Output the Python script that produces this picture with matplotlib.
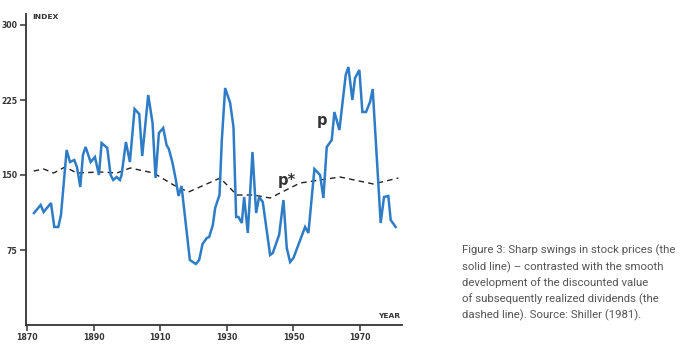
import matplotlib.pyplot as plt

# stock price index p (solid) and ex-post rational price p* (dashed)
p_years = [1872.1, 1874.1, 1875.0, 1877.2, 1878.2, 1879.4, 1880.2, 1881.9, 1882.9, 1884.2,
           1885.0, 1886.0, 1886.8, 1887.6, 1889.1, 1890.4, 1891.6, 1892.4, 1894.1, 1895.1,
           1895.9, 1896.9, 1897.9, 1898.4, 1899.7, 1900.9, 1902.3, 1903.7, 1904.6, 1906.4,
           1907.7, 1908.6, 1909.6, 1910.9, 1911.9, 1912.6, 1913.7, 1914.7, 1915.5, 1916.4,
           1918.9, 1920.7, 1921.7, 1922.7, 1924.0, 1924.7, 1925.8, 1926.5, 1927.8, 1928.5,
           1929.5, 1931.0, 1932.0, 1932.8, 1933.5, 1934.5, 1935.2, 1936.3, 1937.7, 1938.8,
           1939.7, 1940.8, 1943.0, 1943.8, 1945.7, 1947.0, 1948.0, 1949.0, 1950.0, 1953.5,
           1954.5, 1956.3, 1958.0, 1959.0, 1960.0, 1961.5, 1962.3, 1963.8, 1965.7, 1966.5,
           1967.7, 1968.5, 1969.8, 1970.7, 1971.8, 1973.0, 1973.8, 1976.2, 1977.2, 1978.5,
           1979.2, 1980.7]
p_vals = [112, 120, 113, 122, 98, 98, 110, 175, 163, 165,
          158, 138, 170, 178, 163, 168, 150, 182, 177, 150,
          145, 148, 145, 150, 183, 163, 216, 211, 169, 230,
          202, 147, 192, 197, 180, 176, 162, 145, 129, 139,
          65, 61, 65, 81, 87, 88, 100, 117, 130, 185,
          237, 222, 198, 108, 108, 102, 128, 92, 173, 112,
          128, 123, 70, 72, 90, 125, 77, 63, 67, 98,
          92, 156, 150, 127, 178, 185, 213, 195, 250, 258,
          225, 247, 255, 213, 213, 223, 236, 102, 128, 129,
          105, 98]

pstar_years = [1872, 1875, 1878, 1881.4, 1885, 1892, 1897, 1901, 1908, 1914,
               1918.5, 1928, 1933, 1938, 1943, 1952, 1964, 1974, 1981.5]
pstar_vals = [154, 156, 152, 158, 152, 153, 152, 157, 152, 140,
              133, 147, 130, 130, 127, 142, 148, 141, 147]

y_ticks = [75, 150, 225, 300]
x_ticks = [1870, 1890, 1910, 1930, 1950, 1970]

caption = ("Figure 3: Sharp swings in stock prices (the\n"
           "solid line) \u2013 contrasted with the smooth\n"
           "development of the discounted value\n"
           "of subsequently realized dividends (the\n"
           "dashed line). Source: Shiller (1981).")

axis_col = '#333333'
narrow = ['Liberation Sans Narrow', 'DejaVu Sans']

fig = plt.figure(figsize=(6.89, 3.49), dpi=100)
ax = fig.add_axes([26 / 689, 1 - 325 / 349, 376 / 689, 311 / 349])

ax.plot(pstar_years, pstar_vals, color='#222222', lw=1.0, dashes=(4, 3))
ax.plot(p_years, p_vals, color='#2f7cc6', lw=1.8, solid_joinstyle='miter')

ax.set_xlim(1869.7, 1982.6)
ax.set_ylim(0, 311)
ax.set_xticks(x_ticks)
ax.set_yticks(y_ticks)
ax.set_xticklabels([str(t) for t in x_ticks], family=narrow, fontweight='bold', fontsize=5.6, color=axis_col)
ax.set_yticklabels([str(t) for t in y_ticks], family=narrow, fontweight='bold', fontsize=5.6, color=axis_col)
ax.tick_params(axis='both', length=4, width=1.1, color=axis_col, pad=2)

for side in ['top', 'right']:
    ax.spines[side].set_visible(False)
for side in ['left', 'bottom']:
    ax.spines[side].set_color(axis_col)
    ax.spines[side].set_linewidth(1.3)

ax.text(1871.5, 308, 'INDEX', family=narrow, fontweight='bold', fontsize=5.4, color=axis_col,
        ha='left', va='center')
ax.text(1982, 9, 'YEAR', family=narrow, fontweight='bold', fontsize=5.4, color=axis_col,
        ha='right', va='center')

ax.text(1958.6, 205, 'p', fontsize=10.5, fontweight='bold', color='#333333', ha='center', va='center')
ax.text(1948, 145, 'p*', fontsize=10.5, fontweight='bold', color='#333333', ha='center', va='center')

fig.text(462 / 689, 1 - 245 / 349, caption, family=['Roboto', 'DejaVu Sans'], fontsize=8.2,
         color='#555555', ha='left', va='top', linespacing=1.53)

fig.savefig('out.png', dpi=100)
